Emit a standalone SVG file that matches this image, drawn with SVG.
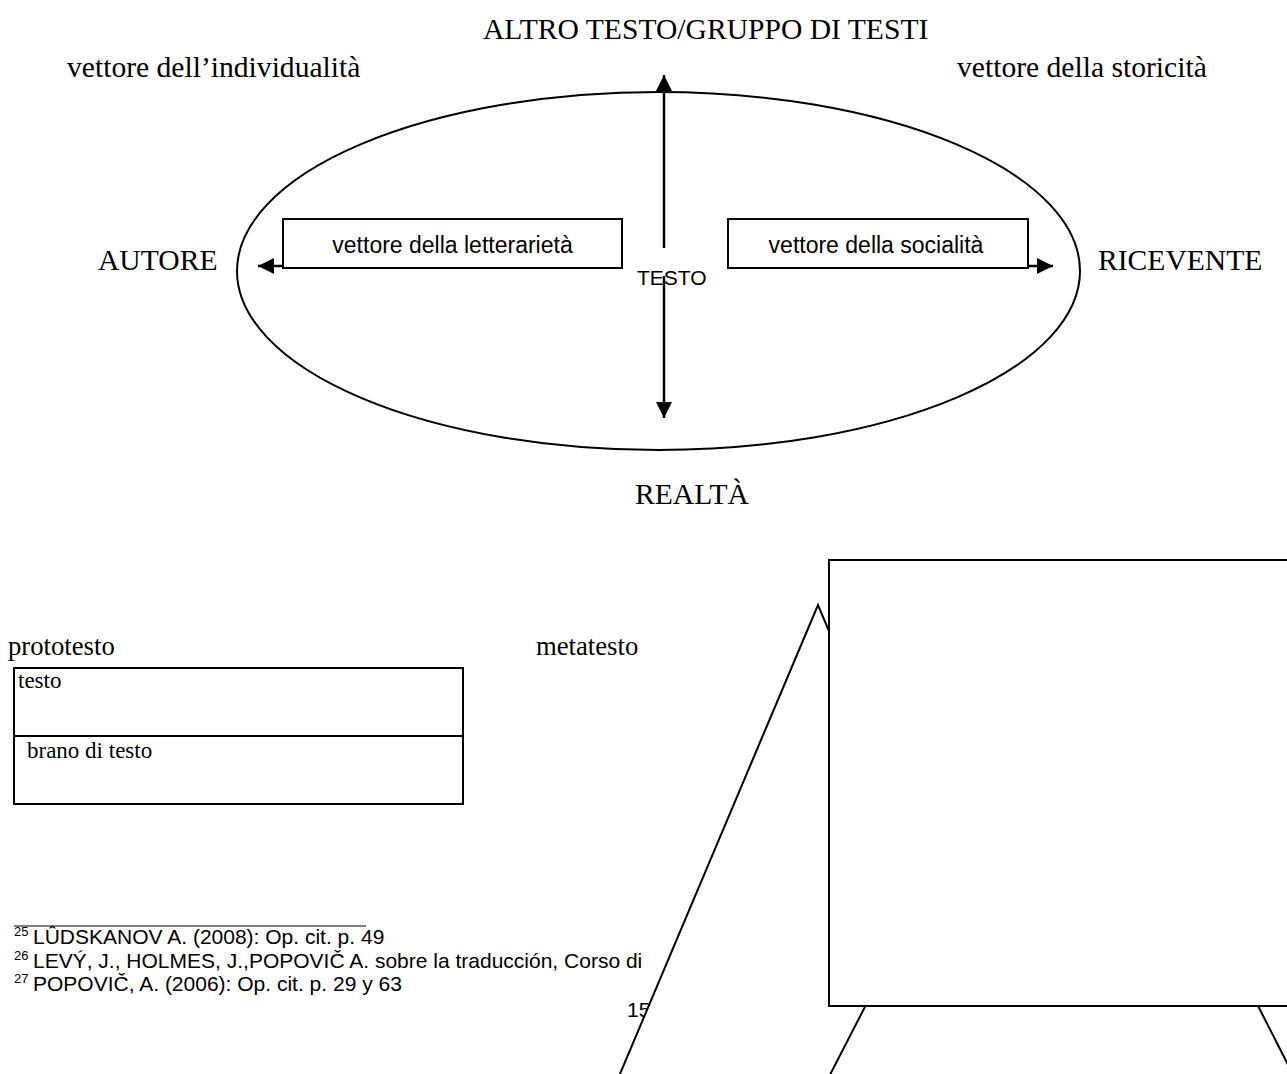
<svg xmlns="http://www.w3.org/2000/svg" width="1287" height="1074" viewBox="0 0 1287 1074">
<style>
.serif{font-family:"Liberation Serif","Times New Roman",serif;fill:#000}
.big{font-size:29.6px}
.mid{font-size:26.7px}
.sm{font-size:23px}
.sans{font-family:"Liberation Sans",Arial,sans-serif;fill:#000}
.lbl{font-size:23px}
.testo{font-size:21px}
.fn{font-size:21px}
.sup{font-size:13px}
.shape{fill:#fff;stroke:#000;stroke-width:2}
.arrow{stroke:#000;stroke-width:2.5;fill:none}
</style>
<defs>
<marker id="ah" markerUnits="userSpaceOnUse" markerWidth="17" markerHeight="16" refX="16" refY="8" orient="auto">
<path d="M0,0 L16,8 L0,16 z" fill="#000"/>
</marker>
</defs>
<rect width="1287" height="1074" fill="#fff"/>

<g id="labels-top">
<text class="serif big" x="483" y="39">ALTRO TESTO/GRUPPO DI TESTI</text>
<text class="serif big" x="67" y="77">vettore dell’individualità</text>
<text class="serif big" x="957" y="77">vettore della storicità</text>
<text class="serif big" x="98" y="270">AUTORE</text>
<text class="serif big" x="1098" y="270">RICEVENTE</text>
<text class="serif big" x="635" y="504">REALTÀ</text>
</g>

<g id="ellipse-testo">
<ellipse cx="658.5" cy="271" rx="421.5" ry="179" fill="none" stroke="#000" stroke-width="2"/>
<text class="sans testo" x="637" y="285">TESTO</text>
</g>

<g id="box-letterarieta">
<rect class="shape" x="283" y="219" width="339" height="49"/>
<text class="sans lbl" x="452.5" y="253" text-anchor="middle">vettore della letterarietà</text>
</g>
<g id="box-socialita">
<rect class="shape" x="728" y="219" width="300" height="49"/>
<text class="sans lbl" x="876" y="253" text-anchor="middle">vettore della socialità</text>
</g>

<g id="connectors">
<line class="arrow" x1="664" y1="248" x2="664" y2="75" marker-end="url(#ah)"/>
<line class="arrow" x1="664" y1="276" x2="664" y2="418" marker-end="url(#ah)"/>
<line class="arrow" x1="283" y1="266" x2="258" y2="266" marker-end="url(#ah)"/>
<line class="arrow" x1="1028" y1="266" x2="1053" y2="266" marker-end="url(#ah)"/>
</g>

<g id="proto-meta">
<text class="serif mid" x="8" y="655">prototesto</text>
<text class="serif mid" x="536" y="655">metatesto</text>
<rect x="14" y="668" width="449" height="136" fill="none" stroke="#000" stroke-width="2"/>
<line x1="14" y1="736" x2="463" y2="736" stroke="#000" stroke-width="2"/>
<text class="serif sm" x="18" y="688">testo</text>
<text class="serif sm" x="27" y="758">brano di testo</text>
</g>

<g id="footnotes">
<line x1="14" y1="926" x2="366" y2="926" stroke="#000" stroke-width="1"/>
<text class="sans sup" x="14" y="936">25</text>
<text class="sans fn" x="33" y="944">LÛDSKANOV A. (2008): Op. cit. p. 49</text>
<text class="sans sup" x="14" y="959.5">26</text>
<text class="sans fn" x="33" y="967.5">LEVÝ, J., HOLMES, J.,POPOVIČ A. sobre la traducción, Corso di</text>
<text class="sans sup" x="14" y="983">27</text>
<text class="sans fn" x="33" y="991">POPOVIČ, A. (2006): Op. cit. p. 29 y 63</text>
<text class="sans testo" x="627" y="1017">15</text>
</g>

<g id="triangle">
<polygon points="818,605 598,1126 1038,1126" fill="#fff" stroke="#000" stroke-width="2"/>
</g>
<g id="stand">
<polygon points="920,900 1204,900 1306,1100 817,1100" fill="#fff" stroke="#000" stroke-width="2"/>
</g>
<g id="board">
<rect x="829" y="560" width="480" height="446" fill="#fff" stroke="#000" stroke-width="2"/>
</g>
</svg>
